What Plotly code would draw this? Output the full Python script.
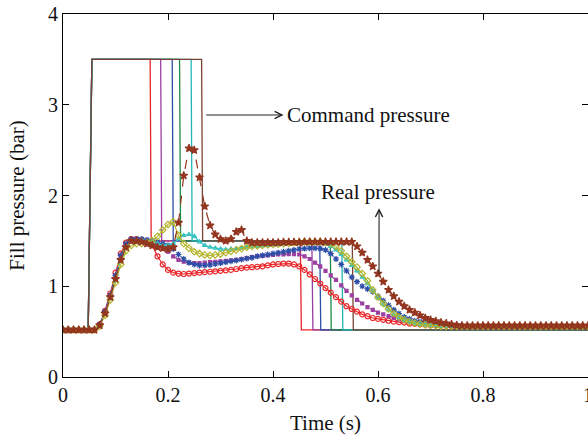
import plotly.graph_objects as go

# ---------------- data ----------------
time = [round(i * 0.01, 2) for i in range(101)]

base = [0.52] * 7  # t = 0.00 .. 0.06
tail = lambda n, v: [v] * n

real_red = base + [0.58, 0.73, 0.92, 1.15, 1.36, 1.48, 1.52, 1.52, 1.51, 1.49,
                   1.45, 1.33, 1.24, 1.18, 1.15, 1.14, 1.135, 1.14, 1.145, 1.15,
                   1.155, 1.16, 1.165, 1.17, 1.175, 1.18, 1.19, 1.20, 1.205, 1.21,
                   1.215, 1.22, 1.23, 1.24, 1.245, 1.25, 1.25, 1.24, 1.22, 1.18,
                   1.13, 1.08, 1.03, 0.98, 0.93, 0.88, 0.83, 0.78, 0.75, 0.72,
                   0.69, 0.67, 0.65, 0.64, 0.63, 0.62, 0.61, 0.605, 0.60, 0.59,
                   0.585, 0.58, 0.575, 0.57, 0.57, 0.565, 0.565, 0.56, 0.56] + tail(25, 0.56)

real_purple = base + [0.58, 0.72, 0.90, 1.12, 1.33, 1.46, 1.51, 1.52, 1.52, 1.51,
                      1.50, 1.48, 1.44, 1.38, 1.33, 1.29, 1.27, 1.26, 1.255, 1.255,
                      1.26, 1.265, 1.27, 1.275, 1.28, 1.285, 1.29, 1.30, 1.31, 1.32,
                      1.33, 1.335, 1.34, 1.345, 1.35, 1.35, 1.355, 1.355, 1.35, 1.33,
                      1.30, 1.26, 1.22, 1.17, 1.12, 1.07, 1.01, 0.95, 0.90, 0.85,
                      0.81, 0.77, 0.74, 0.71, 0.69, 0.67, 0.65, 0.635, 0.62, 0.61,
                      0.60, 0.59, 0.585, 0.58, 0.575, 0.57, 0.57, 0.565, 0.56] + tail(25, 0.56)

real_blue = base + [0.58, 0.72, 0.90, 1.12, 1.34, 1.47, 1.52, 1.52, 1.52, 1.51,
                    1.50, 1.49, 1.47, 1.45, 1.41, 1.35, 1.30, 1.26, 1.24, 1.23,
                    1.23, 1.235, 1.245, 1.255, 1.265, 1.275, 1.285, 1.295, 1.305, 1.315,
                    1.33, 1.34, 1.35, 1.36, 1.37, 1.38, 1.39, 1.40, 1.41, 1.415,
                    1.42, 1.42, 1.415, 1.40, 1.36, 1.30, 1.24, 1.17, 1.10, 1.05,
                    1.00, 0.97, 0.94, 0.89, 0.84, 0.79, 0.74, 0.70, 0.66, 0.64,
                    0.62, 0.61, 0.60, 0.59, 0.585, 0.58, 0.575, 0.57, 0.565] + tail(25, 0.56)

real_olive = base + [0.56, 0.68, 0.85, 1.04, 1.24, 1.39, 1.45, 1.47, 1.47, 1.48,
                     1.50, 1.55, 1.62, 1.68, 1.71, 1.56, 1.47, 1.42, 1.38, 1.36,
                     1.345, 1.34, 1.345, 1.355, 1.37, 1.385, 1.40, 1.415, 1.43, 1.44,
                     1.445, 1.45, 1.455, 1.46, 1.465, 1.47, 1.475, 1.48, 1.485, 1.49,
                     1.49, 1.49, 1.49, 1.48, 1.47, 1.44, 1.39, 1.33, 1.27, 1.21,
                     1.14, 1.06, 0.96, 0.88, 0.81, 0.75, 0.70, 0.66, 0.63, 0.61,
                     0.595, 0.585, 0.575, 0.57, 0.565, 0.56, 0.56, 0.56, 0.56] + tail(25, 0.56)

real_cyan = base + [0.57, 0.70, 0.88, 1.08, 1.29, 1.43, 1.50, 1.51, 1.51, 1.50,
                    1.49, 1.47, 1.45, 1.45, 1.47, 1.52, 1.56, 1.57, 1.55, 1.49,
                    1.45, 1.43, 1.42, 1.41, 1.405, 1.41, 1.415, 1.42, 1.43, 1.435,
                    1.44, 1.445, 1.45, 1.455, 1.46, 1.465, 1.47, 1.475, 1.48, 1.48,
                    1.48, 1.48, 1.475, 1.465, 1.44, 1.40, 1.35, 1.29, 1.23, 1.17,
                    1.10, 1.03, 0.95, 0.87, 0.80, 0.74, 0.69, 0.655, 0.625, 0.605,
                    0.59, 0.58, 0.575, 0.57, 0.565, 0.56, 0.56, 0.56, 0.56] + tail(25, 0.56)

real_brown = base + [0.57, 0.70, 0.88, 1.08, 1.29, 1.43, 1.50, 1.50, 1.49, 1.47,
                     1.45, 1.43, 1.42, 1.41, 1.43, 1.70, 2.22, 2.52, 2.50, 2.20,
                     1.88, 1.67, 1.57, 1.52, 1.50, 1.52, 1.60, 1.62, 1.50, 1.48,
                     1.48, 1.48, 1.48, 1.48, 1.48, 1.485, 1.485, 1.485, 1.485, 1.49,
                     1.49, 1.49, 1.49, 1.49, 1.49, 1.49, 1.49, 1.49, 1.49, 1.44,
                     1.37, 1.29, 1.22, 1.14, 1.05, 0.96, 0.89, 0.83, 0.78, 0.74,
                     0.71, 0.68, 0.65, 0.63, 0.615, 0.60, 0.59, 0.58, 0.57] + tail(25, 0.565)

# command pressure: step-signal breakpoints
cmd_rise_start = 0.048
cmd_rise_end = 0.055
cmd_drop = [0.166, 0.186, 0.208, 0.222, 0.244, 0.264]
cmd_end = [0.452, 0.474, 0.489, 0.509, 0.531, 0.551]
cmd_low, cmd_high, cmd_mid = 0.52, 3.5, 1.5

cmd_colors = ["#e8262a", "#9b3fa0", "#2d4ea6", "#1d8a47", "#22b5b5", "#7a4434"]

real_series = [
    ("red", real_red, "#e8262a", "circle-open", 5, "solid"),
    ("purple", real_purple, "#9b3fa0", "square", 3, "dash"),
    ("blue", real_blue, "#2d4ea6", "asterisk-open", 5, "dot"),
    ("cyan", real_cyan, "#35c2c2", "triangle-up-open", 4, "solid"),
    ("olive", real_olive, "#b4b52c", "diamond-open", 5, "solid"),
    ("brown", real_brown, "#93351f", "star", 6, "dash"),
]

# ---------------- figure ----------------
fig = go.Figure()

for d, e, c in zip(cmd_drop, cmd_end, cmd_colors):
    xs = [0, cmd_rise_start, cmd_rise_end, d, d + 0.002, e, e + 0.002, 1.0]
    ys = [cmd_low, cmd_low, cmd_high, cmd_high, cmd_mid, cmd_mid, cmd_low, cmd_low]
    fig.add_trace(go.Scatter(x=xs, y=ys, mode="lines",
                             line=dict(color=c, width=1.3), showlegend=False))

for name, vals, col, sym, sz, dash in real_series:
    fig.add_trace(go.Scatter(
        x=time, y=vals, mode="lines+markers",
        line=dict(color=col, width=1.2, dash=dash),
        marker=dict(symbol=sym, size=sz, color=col,
                    line=dict(color=col, width=1.2)),
        showlegend=False))

serif = "Liberation Serif"

fig.add_annotation(x=0.42, y=2.887, ax=0.27, ay=2.887, xref="x", yref="y",
                   axref="x", ayref="y", text="", showarrow=True,
                   arrowhead=5, arrowsize=1.3, arrowwidth=1.1, arrowcolor="#222")
fig.add_annotation(x=0.423, y=2.887, xref="x", yref="y", text="Command pressure",
                   showarrow=False, xanchor="left", yanchor="middle",
                   font=dict(family=serif, size=21, color="#111"))
fig.add_annotation(x=0.602, y=1.86, ax=0.602, ay=1.12, xref="x", yref="y",
                   axref="x", ayref="y", text="", showarrow=True,
                   arrowhead=5, arrowsize=1.3, arrowwidth=1.1, arrowcolor="#222")
fig.add_annotation(x=0.60, y=2.04, xref="x", yref="y", text="Real pressure",
                   showarrow=False, xanchor="center", yanchor="middle",
                   font=dict(family=serif, size=21, color="#111"))

axis_common = dict(showline=True, linecolor="black", linewidth=1.2, mirror="allticks",
                   ticks="inside", ticklen=6, tickcolor="black", tickwidth=1,
                   showgrid=False, zeroline=False, automargin=False,
                   ticklabeloverflow="allow",
                   tickfont=dict(family=serif, size=20, color="#111"))

fig.update_xaxes(range=[0, 1], tickvals=[0, 0.2, 0.4, 0.6, 0.8, 1],
                 ticktext=["0", "0.2", "0.4", "0.6", "0.8", "1"],
                 title=dict(text="Time (s)", font=dict(family=serif, size=21, color="#111"),
                            standoff=10),
                 **axis_common)
fig.update_yaxes(range=[0, 4], tickvals=[0, 1, 2, 3, 4],
                 title=dict(text="Fill pressure (bar)", font=dict(family=serif, size=21, color="#111"),
                            standoff=17),
                 **axis_common)

# plot box lands at x 63..588, y 14..377 of the page (page margin removed below)
fig.update_layout(width=588, height=441, margin=dict(l=63, r=0, t=14, b=64),
                  paper_bgcolor="white", plot_bgcolor="white")

fig.write_html("out.html", config={"displayModeBar": False},
               post_script="document.body.style.margin='0';document.body.style.overflow='hidden';")
